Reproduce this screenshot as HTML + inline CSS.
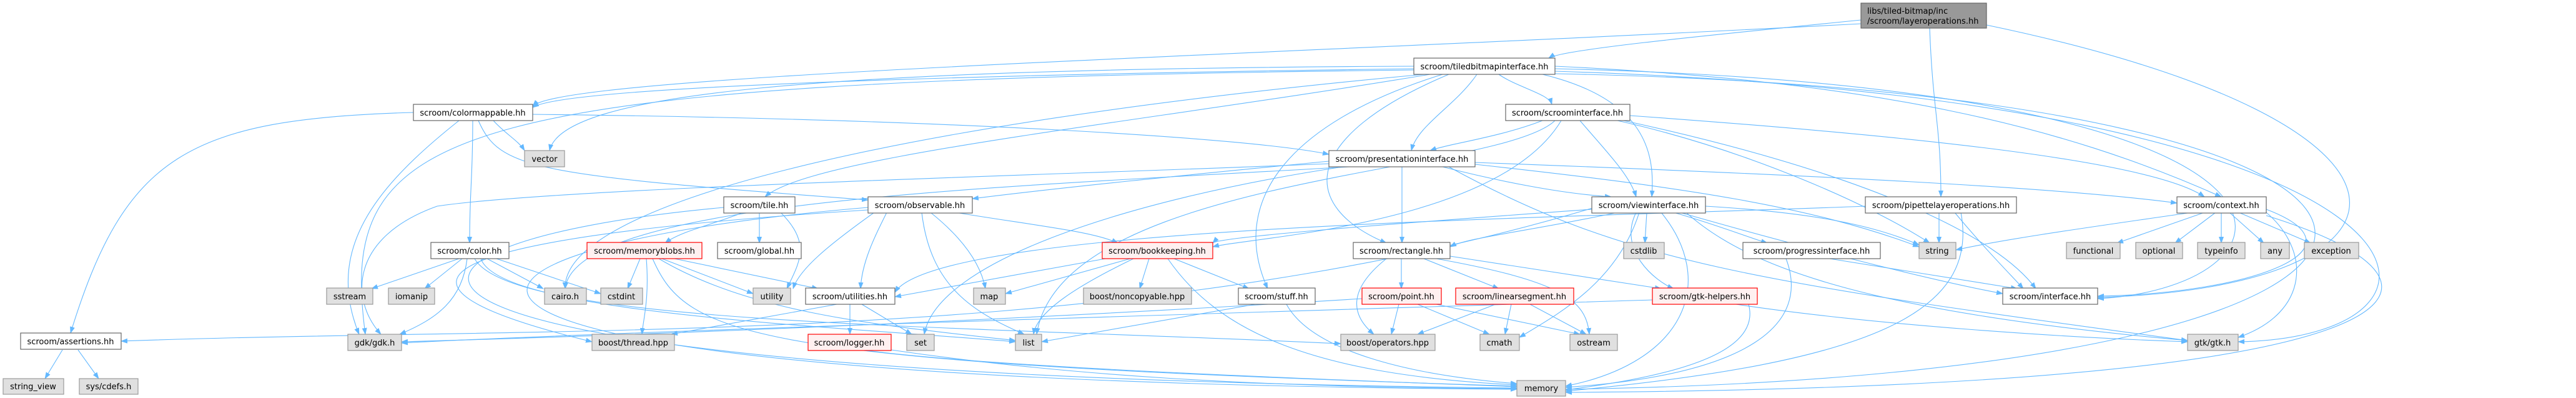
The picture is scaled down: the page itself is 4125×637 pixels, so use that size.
<!DOCTYPE html>
<html><head><meta charset="utf-8"><style>
html,body{margin:0;padding:0;background:#fff;}
svg{display:block;}
text{font-family:"DejaVu Sans","Liberation Sans",sans-serif;font-size:13px;fill:#000;text-anchor:middle;}
.n{fill:#fff;stroke:#666;stroke-width:1.2;}
.g{fill:#e0e0e0;stroke:#999;stroke-width:1.2;}
.r{fill:#fff0f0;stroke:#f00;stroke-width:1.2;}
.t{fill:#999;stroke:#666;stroke-width:1.2;}
path.e{fill:none;stroke:#63b8ff;stroke-width:1.1;marker-end:url(#a);}
</style></head><body>
<svg width="4125" height="637" viewBox="0 0 4125 637" xmlns="http://www.w3.org/2000/svg">
<defs><marker id="a" markerUnits="userSpaceOnUse" markerWidth="11" markerHeight="8" refX="10" refY="4" orient="auto"><path d="M0,0 L11,4 L0,8 z" fill="#63b8ff"/></marker></defs>
<g>
<path class="e" d="M2980 32 C2700 60,2500 80,2480 93"/>
<path class="e" d="M2980 38 C2000 90,900 120,853 170"/>
<path class="e" d="M3090 45 C3095 180,3108 200,3108 315"/>
<path class="e" d="M3181 40 C3950 200,3900 460,3359 476"/>
<path class="e" d="M2264 110 C1500 120,900 140,853 172"/>
<path class="e" d="M2264 106 C1300 110,900 150,880 241"/>
<path class="e" d="M2264 112 C700 130,540 200,585 535"/>
<path class="e" d="M2280 119 C1400 200,900 330,905 462"/>
<path class="e" d="M2290 119 C1800 200,1300 250,1225 315"/>
<path class="e" d="M2365 119 C2330 170,2270 200,2260 241"/>
<path class="e" d="M2400 119 C2430 140,2480 150,2485 167"/>
<path class="e" d="M2470 119 C2640 160,2650 250,2645 315"/>
<path class="e" d="M2320 119 C2080 220,2080 330,2220 389"/>
<path class="e" d="M2310 119 C2050 200,1970 330,2030 462"/>
<path class="e" d="M2490 106 C3000 130,3300 200,3557 315"/>
<path class="e" d="M2490 110 C3800 140,3700 460,3359 478"/>
<path class="e" d="M2490 114 C3950 160,4000 540,3584 547"/>
<path class="e" d="M2490 118 C4120 150,4100 600,2507 623"/>
<path class="e" d="M790 193 C810 215,830 225,840 241"/>
<path class="e" d="M757 193 C757 290,752 300,752 389"/>
<path class="e" d="M662 180 C300 190,200 250,113 533"/>
<path class="e" d="M735 193 C600 300,520 400,575 535"/>
<path class="e" d="M853 183 C1500 190,2000 220,2128 247"/>
<path class="e" d="M766 193 C800 270,850 280,1390 320"/>
<path class="e" d="M2470 193 C2400 220,2320 230,2290 241"/>
<path class="e" d="M2530 193 C2570 240,2610 280,2620 315"/>
<path class="e" d="M2610 185 C3100 220,3450 260,3530 315"/>
<path class="e" d="M2590 193 C2800 240,3000 330,3090 389"/>
<path class="e" d="M2600 193 C3000 280,3200 380,3260 462"/>
<path class="e" d="M2490 193 C2400 280,1700 280,1660 535"/>
<path class="e" d="M2500 193 C2400 360,2000 380,1942 395"/>
<path class="e" d="M2128 258 C1900 280,1700 300,1557 318"/>
<path class="e" d="M2310 267 C2400 290,2500 310,2580 315"/>
<path class="e" d="M2245 267 L2245 389"/>
<path class="e" d="M2362 260 C2900 280,3300 300,3486 325"/>
<path class="e" d="M2128 262 C1700 280,900 300,700 330 C560 380,560 480,610 535"/>
<path class="e" d="M2160 267 C1600 300,920 320,905 462"/>
<path class="e" d="M2150 267 C1800 320,1500 420,1480 535"/>
<path class="e" d="M2320 267 C2600 420,2800 450,3503 545"/>
<path class="e" d="M2362 263 C2700 300,2900 330,3073 395"/>
<path class="e" d="M1190 340 C1140 360,1090 370,1065 389"/>
<path class="e" d="M1216 340 L1216 389"/>
<path class="e" d="M1250 340 C1300 390,1280 420,1260 462"/>
<path class="e" d="M1159 332 C520 390,420 600,2429 621"/>
<path class="e" d="M1530 340 C1650 360,1750 370,1790 389"/>
<path class="e" d="M1420 340 C1400 380,1380 420,1378 462"/>
<path class="e" d="M1490 340 C1540 380,1570 420,1578 462"/>
<path class="e" d="M1476 340 C1490 460,1560 500,1640 535"/>
<path class="e" d="M1400 340 C1330 390,1280 430,1270 462"/>
<path class="e" d="M1390 332 C580 400,480 610,2429 623"/>
<path class="e" d="M1390 336 C700 380,550 450,948 547"/>
<path class="e" d="M2590 340 C2450 370,2350 380,2322 395"/>
<path class="e" d="M2637 340 L2634 389"/>
<path class="e" d="M2680 340 C2750 360,2800 380,2830 389"/>
<path class="e" d="M2620 340 C2590 400,2650 450,2680 462"/>
<path class="e" d="M2731 330 C2900 340,3000 360,3073 392"/>
<path class="e" d="M2690 340 C2900 400,3100 450,3207 470"/>
<path class="e" d="M2625 340 C2590 450,2500 500,2433 540"/>
<path class="e" d="M2660 340 C2750 450,2700 580,2507 618"/>
<path class="e" d="M2700 340 C2800 430,3000 500,3503 545"/>
<path class="e" d="M2549 335 C2200 360,1950 380,1942 389"/>
<path class="e" d="M3105 340 L3105 389"/>
<path class="e" d="M3130 340 C3180 400,3220 440,3240 462"/>
<path class="e" d="M3140 340 C3170 500,3000 580,2507 626"/>
<path class="e" d="M2987 330 C2500 350,1500 360,1433 468"/>
<path class="e" d="M3510 340 C3300 370,3200 385,3132 400"/>
<path class="e" d="M3530 340 L3390 389"/>
<path class="e" d="M3548 340 L3483 389"/>
<path class="e" d="M3557 340 L3557 389"/>
<path class="e" d="M3570 340 L3625 389"/>
<path class="e" d="M3585 340 L3700 389"/>
<path class="e" d="M3629 335 C3800 400,3600 470,3359 474"/>
<path class="e" d="M3629 340 C3700 400,3700 500,3584 540"/>
<path class="e" d="M3629 345 C4000 460,3900 620,2507 628"/>
<path class="e" d="M735 414 L595 462"/>
<path class="e" d="M740 414 L680 462"/>
<path class="e" d="M748 414 C740 480,700 510,640 535"/>
<path class="e" d="M780 414 L870 462"/>
<path class="e" d="M795 414 L962 470"/>
<path class="e" d="M760 414 C820 520,1500 520,2147 550"/>
<path class="e" d="M770 414 C800 500,1300 520,1626 547"/>
<path class="e" d="M1025 414 L1005 462"/>
<path class="e" d="M1035 414 C1040 480,1030 510,1028 535"/>
<path class="e" d="M1060 414 L1206 470"/>
<path class="e" d="M1080 414 L1310 462"/>
<path class="e" d="M1045 414 C1100 540,1200 580,2429 618"/>
<path class="e" d="M1055 414 C1200 500,1400 520,1626 545"/>
<path class="e" d="M1770 414 L1433 475"/>
<path class="e" d="M1810 414 L1610 470"/>
<path class="e" d="M1840 414 L1825 462"/>
<path class="e" d="M1880 414 L2000 462"/>
<path class="e" d="M1815 414 C1720 460,1660 500,1655 535"/>
<path class="e" d="M1870 414 C1950 530,2100 600,2429 616"/>
<path class="e" d="M2244 414 L2244 462"/>
<path class="e" d="M2280 414 L2400 462"/>
<path class="e" d="M2220 414 C2150 470,2170 510,2200 535"/>
<path class="e" d="M2300 414 C2500 450,2540 480,2545 535"/>
<path class="e" d="M2322 410 L2660 462"/>
<path class="e" d="M2930 414 L3230 462"/>
<path class="e" d="M2860 414 C2900 520,2800 600,2507 620"/>
<path class="e" d="M1361 487 L1361 535"/>
<path class="e" d="M1340 487 L1075 535"/>
<path class="e" d="M1380 487 L1460 535"/>
<path class="e" d="M2240 487 L2228 535"/>
<path class="e" d="M2270 487 L2385 535"/>
<path class="e" d="M2300 487 L2530 535"/>
<path class="e" d="M2181 478 C1500 520,900 540,643 547"/>
<path class="e" d="M2395 487 L2270 535"/>
<path class="e" d="M2420 487 L2410 535"/>
<path class="e" d="M2450 487 L2540 535"/>
<path class="e" d="M2780 487 C3000 520,3300 540,3503 547"/>
<path class="e" d="M2646 480 C2000 500,1000 530,643 549"/>
<path class="e" d="M2800 487 C2820 560,2700 600,2507 624"/>
<path class="e" d="M2010 487 L1668 547"/>
<path class="e" d="M2060 487 C2100 560,2250 600,2429 614"/>
<path class="e" d="M100 560 L72 606"/>
<path class="e" d="M125 560 L158 606"/>
<path class="e" d="M1380 560 C1600 590,2200 610,2429 619"/>
<path class="e" d="M1427 560 C1700 600,2000 620,2429 622"/>
<path class="e" d="M2560 330 C1800 560,900 520,194 546"/>
</g>
<g>
<rect class="t" x="2980" y="5" width="201" height="40"/><text x="2990" y="22" style="text-anchor:start">libs/tiled-bitmap/inc</text><text x="2990" y="38" style="text-anchor:start">/scroom/layeroperations.hh</text>
<rect class="n" x="2264" y="93" width="226" height="26"/><text x="2377" y="111">scroom/tiledbitmapinterface.hh</text>
<rect class="n" x="662" y="167" width="191" height="26"/><text x="757" y="185">scroom/colormappable.hh</text>
<rect class="n" x="2411" y="167" width="199" height="26"/><text x="2510" y="185">scroom/scroominterface.hh</text>
<rect class="g" x="840" y="241" width="64" height="26"/><text x="872" y="259">vector</text>
<rect class="n" x="2128" y="241" width="234" height="26"/><text x="2245" y="259">scroom/presentationinterface.hh</text>
<rect class="n" x="1159" y="315" width="114" height="26"/><text x="1216" y="333">scroom/tile.hh</text>
<rect class="n" x="1390" y="315" width="167" height="26"/><text x="1473" y="333">scroom/observable.hh</text>
<rect class="n" x="2549" y="315" width="182" height="26"/><text x="2640" y="333">scroom/viewinterface.hh</text>
<rect class="n" x="2987" y="315" width="242" height="26"/><text x="3108" y="333">scroom/pipettelayeroperations.hh</text>
<rect class="n" x="3486" y="315" width="143" height="26"/><text x="3557" y="333">scroom/context.hh</text>
<rect class="n" x="690" y="388" width="125" height="26"/><text x="752" y="406">scroom/color.hh</text>
<rect class="r" x="940" y="388" width="184" height="26"/><text x="1032" y="406">scroom/memoryblobs.hh</text>
<rect class="n" x="1149" y="388" width="134" height="26"/><text x="1216" y="406">scroom/global.hh</text>
<rect class="r" x="1765" y="388" width="177" height="26"/><text x="1853" y="406">scroom/bookkeeping.hh</text>
<rect class="n" x="2167" y="388" width="155" height="26"/><text x="2244" y="406">scroom/rectangle.hh</text>
<rect class="g" x="2600" y="388" width="65" height="26"/><text x="2632" y="406">cstdlib</text>
<rect class="n" x="2791" y="388" width="220" height="26"/><text x="2901" y="406">scroom/progressinterface.hh</text>
<rect class="g" x="3073" y="388" width="59" height="26"/><text x="3102" y="406">string</text>
<rect class="g" x="3309" y="388" width="86" height="26"/><text x="3352" y="406">functional</text>
<rect class="g" x="3420" y="388" width="75" height="26"/><text x="3457" y="406">optional</text>
<rect class="g" x="3519" y="388" width="76" height="26"/><text x="3557" y="406">typeinfo</text>
<rect class="g" x="3620" y="388" width="46" height="26"/><text x="3643" y="406">any</text>
<rect class="g" x="3690" y="388" width="87" height="26"/><text x="3733" y="406">exception</text>
<rect class="g" x="523" y="461" width="74" height="26"/><text x="560" y="479">sstream</text>
<rect class="g" x="622" y="461" width="74" height="26"/><text x="659" y="479">iomanip</text>
<rect class="g" x="872" y="461" width="67" height="26"/><text x="905" y="479">cairo.h</text>
<rect class="g" x="962" y="461" width="67" height="26"/><text x="995" y="479">cstdint</text>
<rect class="g" x="1206" y="461" width="60" height="26"/><text x="1236" y="479">utility</text>
<rect class="n" x="1290" y="461" width="143" height="26"/><text x="1361" y="479">scroom/utilities.hh</text>
<rect class="g" x="1559" y="461" width="51" height="26"/><text x="1584" y="479">map</text>
<rect class="g" x="1735" y="461" width="173" height="26"/><text x="1821" y="479">boost/noncopyable.hpp</text>
<rect class="n" x="1983" y="461" width="123" height="26"/><text x="2044" y="479">scroom/stuff.hh</text>
<rect class="r" x="2181" y="461" width="127" height="26"/><text x="2244" y="479">scroom/point.hh</text>
<rect class="r" x="2331" y="461" width="189" height="26"/><text x="2425" y="479">scroom/linearsegment.hh</text>
<rect class="r" x="2646" y="461" width="168" height="26"/><text x="2730" y="479">scroom/gtk-helpers.hh</text>
<rect class="n" x="3207" y="461" width="152" height="26"/><text x="3283" y="479">scroom/interface.hh</text>
<rect class="n" x="33" y="533" width="161" height="26"/><text x="113" y="551">scroom/assertions.hh</text>
<rect class="g" x="557" y="535" width="86" height="26"/><text x="600" y="553">gdk/gdk.h</text>
<rect class="g" x="948" y="535" width="132" height="26"/><text x="1014" y="553">boost/thread.hpp</text>
<rect class="r" x="1294" y="535" width="133" height="26"/><text x="1360" y="553">scroom/logger.hh</text>
<rect class="g" x="1452" y="535" width="44" height="26"/><text x="1474" y="553">set</text>
<rect class="g" x="1626" y="535" width="42" height="26"/><text x="1647" y="553">list</text>
<rect class="g" x="2147" y="535" width="151" height="26"/><text x="2222" y="553">boost/operators.hpp</text>
<rect class="g" x="2370" y="535" width="63" height="26"/><text x="2401" y="553">cmath</text>
<rect class="g" x="2514" y="535" width="76" height="26"/><text x="2552" y="553">ostream</text>
<rect class="g" x="3503" y="535" width="81" height="26"/><text x="3543" y="553">gtk/gtk.h</text>
<rect class="g" x="5" y="606" width="97" height="25"/><text x="53" y="623">string_view</text>
<rect class="g" x="127" y="606" width="94" height="25"/><text x="174" y="623">sys/cdefs.h</text>
<rect class="g" x="2429" y="609" width="78" height="25"/><text x="2468" y="626">memory</text>
</g>
</svg>
</body></html>
